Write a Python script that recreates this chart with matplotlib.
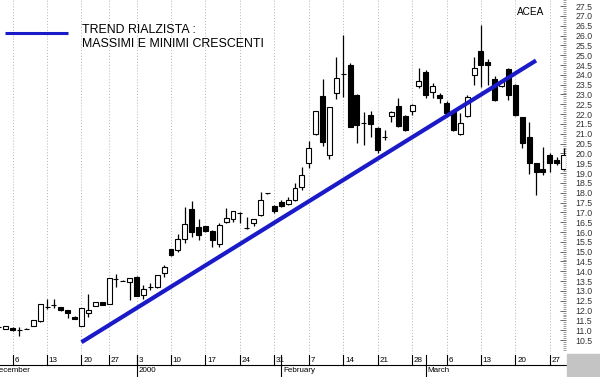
import numpy as np
import pandas as pd
import matplotlib
matplotlib.use('Agg')
import matplotlib.pyplot as plt
from matplotlib.patches import Rectangle

plt.rcParams['font.family'] = ['Liberation Sans', 'DejaVu Sans']

# trading days on the chart (24 and 31 December closed)
days = pd.bdate_range('1999-12-02', '2000-03-29')
days = days[~days.isin(pd.to_datetime(['1999-12-24', '1999-12-31']))]

opens = [11.15, 11.08, 11.13, 11.01, 11.06, 11.20, 11.47, 12.20, 12.28, 12.17,
         12.03, 11.69, 11.21, 11.86, 12.25, 12.42, 12.32, 13.59, 13.52, 13.47,
         13.72, 12.79, 13.20, 13.21, 13.90, 15.12, 15.08, 15.63, 17.15, 16.24,
         16.30, 16.06, 15.37, 16.49, 16.66, 16.95, 16.19, 16.47, 16.86, 17.97,
         17.32, 17.54, 17.42, 17.63, 18.27, 19.49, 20.97, 22.92, 19.92, 23.06,
         24.04, 24.50, 22.97, 21.53, 21.95, 21.28, 20.85, 21.90, 22.41, 21.90,
         22.17, 23.44, 24.16, 23.14, 22.97, 22.58, 22.12, 20.97, 21.90, 23.99,
         25.23, 24.67, 23.80, 23.41, 24.30, 23.48, 21.85, 20.85, 19.49, 19.20,
         19.92, 19.66, 19.20]
highs = [11.19, 11.24, 11.16, 11.18, 11.09, 11.52, 12.33, 12.57, 12.59, 12.19,
         12.05, 11.71, 12.13, 12.84, 12.44, 12.44, 13.65, 13.86, 13.54, 13.65,
         13.76, 13.30, 13.39, 13.83, 14.32, 15.16, 15.88, 17.29, 17.58, 16.64,
         16.33, 16.10, 16.44, 17.20, 17.09, 17.03, 16.78, 16.66, 18.05, 17.99,
         17.35, 17.63, 17.80, 18.48, 19.32, 20.64, 22.18, 23.77, 22.36, 24.92,
         26.02, 24.61, 23.00, 22.12, 22.17, 21.32, 21.19, 22.16, 22.80, 21.95,
         22.51, 24.33, 24.24, 23.57, 23.07, 22.67, 22.16, 22.04, 22.97, 24.92,
         26.53, 24.83, 23.94, 23.73, 24.34, 23.53, 21.87, 21.61, 19.51, 20.34,
         20.02, 19.82, 20.26]
lows = [11.11, 11.04, 10.96, 10.71, 11.04, 11.19, 11.44, 12.06, 12.15, 12.00,
        11.61, 11.55, 11.19, 11.69, 12.23, 12.26, 12.31, 13.21, 13.50, 12.54,
        12.74, 12.59, 13.05, 13.15, 13.71, 14.78, 15.00, 15.42, 15.76, 15.59,
        16.02, 15.25, 15.25, 16.46, 16.52, 16.44, 16.14, 16.30, 16.84, 17.95,
        16.95, 17.27, 17.37, 17.58, 18.14, 19.24, 20.94, 20.38, 19.70, 22.75,
        22.88, 21.32, 20.51, 20.43, 20.85, 20.03, 20.68, 21.61, 21.34, 21.14,
        21.95, 23.31, 22.80, 22.80, 22.55, 22.05, 21.14, 20.94, 21.85, 23.48,
        23.39, 23.48, 22.69, 23.38, 22.73, 21.90, 20.27, 18.97, 17.88, 18.90,
        19.07, 19.41, 19.15]
closes = [11.15, 11.21, 11.01, 11.01, 11.06, 11.50, 12.32, 12.20, 12.28, 12.03,
          11.86, 11.57, 12.12, 12.03, 12.42, 12.28, 13.64, 13.59, 13.52, 13.64,
          12.76, 13.10, 13.20, 13.81, 14.22, 14.83, 15.63, 16.39, 16.01, 15.85,
          16.06, 15.59, 16.34, 16.73, 17.07, 16.95, 16.19, 16.64, 17.63, 17.97,
          17.07, 17.32, 17.63, 18.22, 18.90, 20.26, 22.16, 20.59, 22.34, 23.82,
          24.04, 21.36, 21.44, 21.53, 21.48, 20.17, 20.85, 22.12, 21.39, 21.19,
          22.46, 23.68, 22.97, 23.43, 22.80, 22.07, 21.19, 21.53, 22.85, 24.33,
          24.50, 24.50, 22.74, 23.66, 22.97, 21.95, 20.55, 19.51, 19.05, 19.07,
          19.49, 19.49, 19.92]

trend_dates = ['1999-12-20', '2000-03-23']
trend_vals = [10.39, 24.73]

month_names = ['December', '2000', 'February', 'March']

W, H = 600, 377
fig = plt.figure(figsize=(W / 100, H / 100), dpi=100)
ax = fig.add_axes([0, 23 / H, 566 / W, 354 / H])

x = np.arange(len(days))
o = np.array(opens); c = np.array(closes)
hi = np.array(highs); lo = np.array(lows)
up = c >= o

# week grid
mondays = x[days.weekday == 0]
for m in mondays:
    ax.axvline(m, color='#b4b4b4', lw=0.7, ls=(0, (1, 2)), zorder=0)

# candles
ax.vlines(x, lo, hi, color='black', lw=0.9, zorder=2)
body_h = np.maximum(np.abs(c - o), 0.001)
ax.bar(x, body_h, bottom=np.minimum(o, c), width=0.72,
       color=np.where(up, 'white', 'black'), edgecolor='black', lw=0.8, zorder=3)

# trend line
tx = [days.get_loc(pd.Timestamp(d)) for d in trend_dates]
ax.plot(tx, trend_vals, color='#1a1ac8', lw=3.0, solid_capstyle='butt', zorder=4)

ax.set_xlim(0.17, 82.35)
ax.set_ylim(9.79, 27.81)
for s in ax.spines.values():
    s.set_visible(False)
ax.set_xticks([])
ax.yaxis.tick_right()
ax.set_yticks(np.arange(10.5, 27.51, 0.5))
ax.set_yticks(np.arange(10.0, 27.81, 0.1), minor=True)
ax.set_yticklabels(['%.1f' % v for v in np.arange(10.5, 27.51, 0.5)])
ax.tick_params(axis='y', which='major', direction='in', length=4, width=0.6,
               pad=7, labelsize=6.3, labelcolor='#333333', color='#555555')
ax.tick_params(axis='y', which='minor', direction='in', length=2, width=0.5,
               color='#777777')

# legend-like annotation
ax.plot([5 / 566, 68 / 566], [0.907, 0.907], transform=ax.transAxes,
        color='#1a1ac8', lw=2.2, solid_capstyle='butt')
ax.text(82 / 566, 0.915, 'TREND RIALZISTA :', transform=ax.transAxes,
        fontsize=8.9, va='center', ha='left')
ax.text(82 / 566, 0.876, 'MASSIMI E MINIMI CRESCENTI', transform=ax.transAxes,
        fontsize=8.9, va='center', ha='left')
ax.text(517 / 566, 0.966, 'ACEA', transform=ax.transAxes,
        fontsize=7.2, va='center', ha='left')

# date band
bx = fig.add_axes([0, 0, 566 / W, 23 / H])
bx.set_xlim(ax.get_xlim())
bx.set_ylim(0, 23)
bx.axis('off')
bx.plot(bx.get_xlim(), [12, 12], color='black', lw=0.8, clip_on=False)
for m in mondays:
    bx.plot([m, m], [12, 22], color='black', lw=0.8)
    bx.text(m + 0.25, 17, str(days[m].day), fontsize=5.8, va='center', ha='left')
month_starts = [-1] + list(x[1:][days.month[1:] != days.month[:-1]])
for ms, name in zip(month_starts, month_names):
    bx.plot([ms, ms], [0, 22], color='black', lw=0.8)
    bx.text(ms + 0.25, 6, name, fontsize=5.8, va='center', ha='left')

fig.patches.append(Rectangle((567 / W, 0), 33 / W, 23 / H, transform=fig.transFigure,
                             color='#c4c4c4', zorder=0))

fig.savefig('out.png', dpi=100)
